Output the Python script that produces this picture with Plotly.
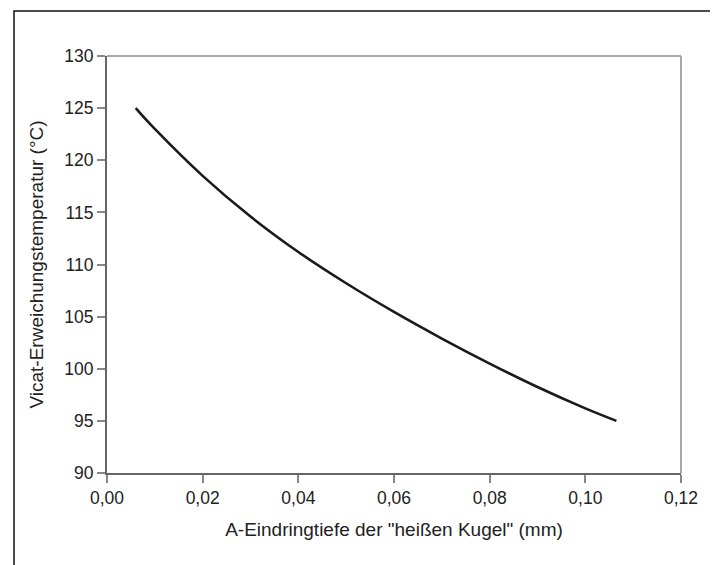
import plotly.graph_objects as go

# data
eindringtiefe_mm = [0.006, 0.01, 0.02, 0.03, 0.04, 0.05, 0.06, 0.07, 0.08, 0.09, 0.10, 0.1065]
vicat_temp_c = [125.0, 123.0, 118.5, 114.6, 111.2, 108.2, 105.45, 102.9, 100.5, 98.25, 96.2, 95.0]

x_ticks = [0.0, 0.02, 0.04, 0.06, 0.08, 0.10, 0.12]
x_ticklabels = ["0,00", "0,02", "0,04", "0,06", "0,08", "0,10", "0,12"]
y_ticks = [90, 95, 100, 105, 110, 115, 120, 125, 130]

OFF = 8  # default body margin of the written page
W, H = 718 - OFF, 565 - OFF
# plot-area edges in page pixels
L, R, T, B = 107, 681, 56, 473

fig = go.Figure()
fig.add_trace(go.Scatter(
    x=eindringtiefe_mm, y=vicat_temp_c, mode="lines",
    line=dict(color="#1a1a1a", width=2.6, shape="spline", smoothing=1.0),
    hoverinfo="skip", showlegend=False,
))

tick_font = dict(family="Liberation Sans, Arial, sans-serif", size=17.5, color="#222222")
title_font = dict(family="Liberation Sans, Arial, sans-serif", size=19, color="#222222")

def px2paper_x(px):
    return (px - L) / (R - L)

def px2paper_y(py):
    return (B - py) / (B - T)

shapes = [
    # outer frame
    dict(type="rect", xref="paper", yref="paper",
         x0=px2paper_x(14), x1=px2paper_x(712), y0=px2paper_y(600), y1=px2paper_y(11),
         line=dict(color="#111111", width=1.5), layer="below"),
    # top and right (lighter) border of plot area
    dict(type="line", xref="paper", yref="paper", x0=0, x1=1, y0=1, y1=1,
         line=dict(color="#a8a8a8", width=2)),
    dict(type="line", xref="paper", yref="paper", x0=1, x1=1, y0=0, y1=1,
         line=dict(color="#a8a8a8", width=2)),
]

fig.update_layout(
    width=W, height=H,
    margin=dict(l=L - OFF, r=W - (R - OFF), t=T - OFF, b=H - (B - OFF), autoexpand=False),
    paper_bgcolor="white", plot_bgcolor="white",
    font=tick_font,
    shapes=shapes,
    xaxis=dict(
        range=[0, 0.12], tickvals=x_ticks, ticktext=x_ticklabels,
        showgrid=False, zeroline=False,
        showline=True, linecolor="#666666", linewidth=2,
        ticks="outside", ticklen=8, tickwidth=1.5, tickcolor="#888888",
        tickfont=tick_font, automargin=False,
        title=dict(text='A-Eindringtiefe der "heißen Kugel" (mm)', font=title_font, standoff=16),
    ),
    yaxis=dict(
        range=[90, 130], tickvals=y_ticks,
        showgrid=False, zeroline=False,
        showline=True, linecolor="#666666", linewidth=2,
        ticks="outside", ticklen=8, tickwidth=1.5, tickcolor="#888888",
        tickfont=tick_font, automargin=False,
        title=dict(text="Vicat-Erweichungstemperatur (°C)", font=title_font, standoff=16),
    ),
)

fig.write_html("out.html")
